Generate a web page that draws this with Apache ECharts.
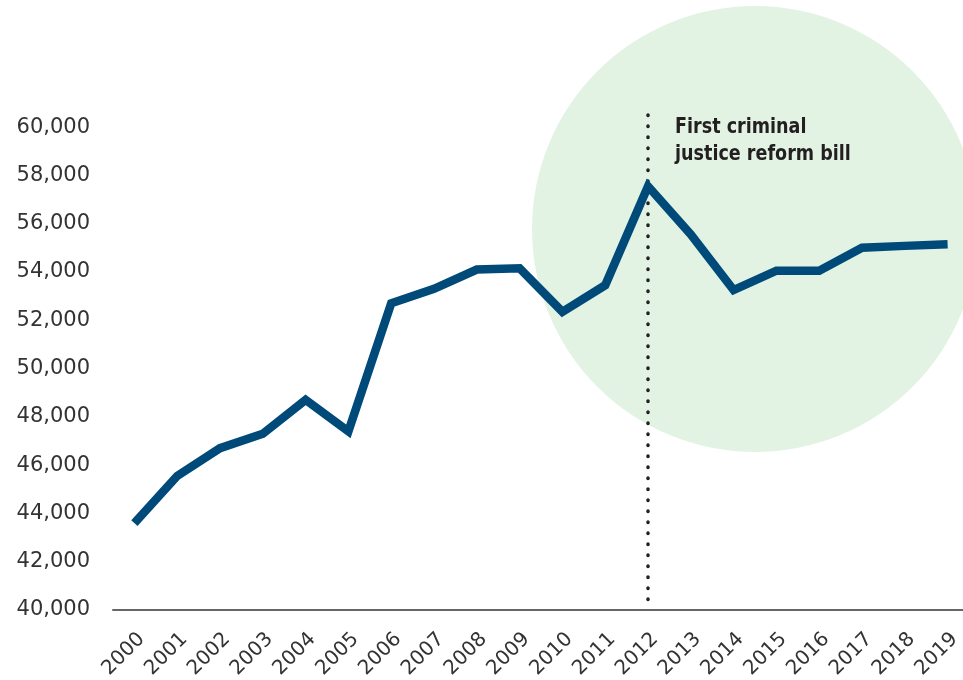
<!DOCTYPE html>
<html>
<head>
<meta charset="utf-8">
<script src="https://cdn.jsdelivr.net/npm/echarts@6/dist/echarts.min.js"></script>
<style>
  html, body { margin: 0; padding: 0; background: #ffffff; }
  #chart { width: 963px; height: 680px; }
</style>
</head>
<body>
<div id="chart"></div>
<script>
// Yearly totals, 2000-2019
const years = ['2000','2001','2002','2003','2004','2005','2006','2007','2008','2009',
               '2010','2011','2012','2013','2014','2015','2016','2017','2018','2019'];
const totals = [43600, 45550, 46700, 47300, 48700, 47400, 52700, 53300, 54100, 54150,
                52350, 53450, 57550, 55550, 53250, 54050, 54050, 55000, 55080, 55150];

// Value axis range and step
const yMin = 40000;
const yMax = 60500;   // a little headroom above the top tick for the event marker
const yStep = 2000;

// Event marker
const eventYear = '2012';
const eventLabel = 'First criminal\njustice reform bill';

const chart = echarts.init(document.getElementById('chart'));

const labelFont = 'DejaVu Sans';
const noteFont = "'Liberation Sans Narrow', 'DejaVu Sans Condensed', 'Liberation Sans', sans-serif";

chart.setOption({
  animation: false,
  backgroundColor: '#ffffff',
  grid: {
    left: 113, top: 115, width: 856, height: 495,
    containLabel: false,
    outerBoundsMode: 'none'
  },
  graphic: [
    {
      type: 'circle',
      z: -10,
      shape: { cx: 755, cy: 229, r: 223 },
      style: { fill: '#e2f3e4' }
    },
    {
      type: 'text',
      x: 675,
      y: 114,
      scaleX: 0.93,
      z: 10,
      style: {
        text: eventLabel,
        font: 'bold 21px ' + noteFont,
        fill: '#231f20',
        lineHeight: 27
      }
    }
  ],
  xAxis: {
    type: 'category',
    data: years,
    boundaryGap: true,
    axisLine: { show: true, lineStyle: { color: '#666666', width: 2 } },
    axisTick: { show: false },
    axisLabel: {
      rotate: 45,
      margin: 19,
      interval: 0,
      verticalAlign: 'top',
      fontFamily: labelFont,
      fontSize: 20,
      color: '#333333'
    },
    splitLine: { show: false }
  },
  yAxis: {
    type: 'value',
    min: yMin,
    max: yMax,
    interval: yStep,
    axisLine: { show: false },
    axisTick: { show: false },
    splitLine: { show: false },
    axisLabel: {
      margin: 23,
      fontFamily: labelFont,
      fontSize: 21,
      color: '#333333',
      formatter: v => (v % yStep === 0 ? v.toLocaleString('en-US') : '')
    }
  },
  series: [{
    type: 'line',
    data: totals,
    symbol: 'none',
    clip: false,
    lineStyle: { color: '#004a7a', width: 8.5, join: 'miter' },
    markLine: {
      silent: true,
      symbol: 'none',
      label: { show: false },
      lineStyle: { color: '#231f20', width: 3.5, type: [0.5, 10.5], cap: 'round', opacity: 1 },
      data: [[
        { coord: [eventYear, yMax] },
        { coord: [eventYear, yMin] }
      ]]
    },
    z: 5
  }]
});
</script>
</body>
</html>
